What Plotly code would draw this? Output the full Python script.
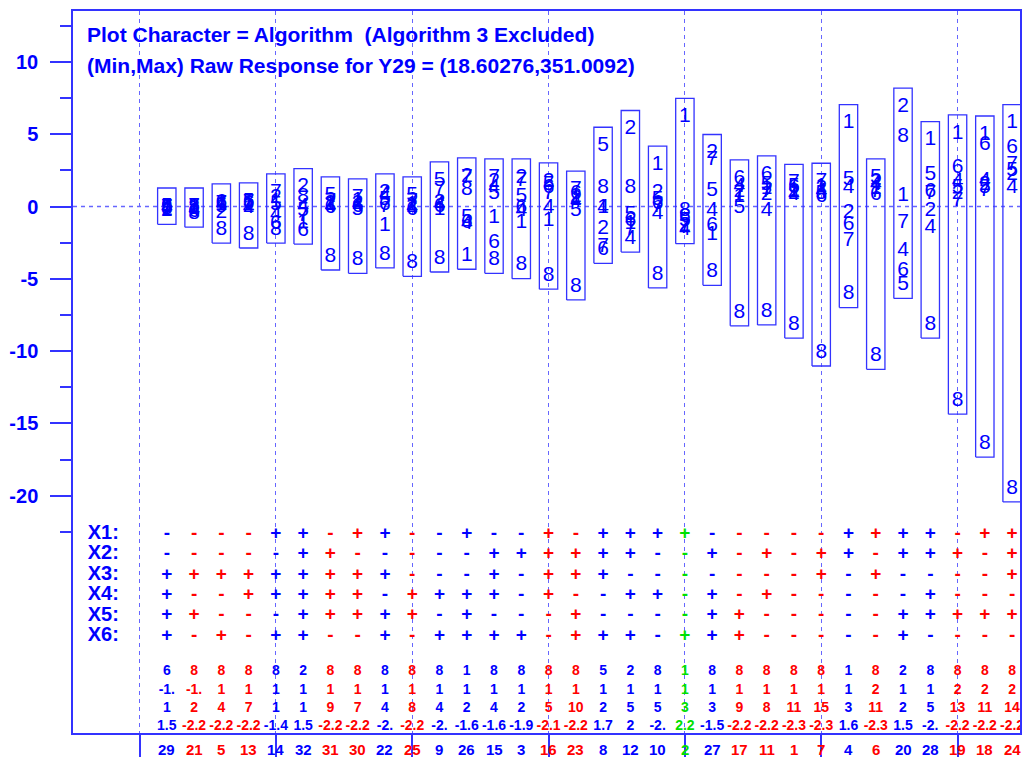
import plotly.graph_objects as go

# ---------------- data ----------------
columns = list(range(1, 33))
run_labels = [29, 21, 5, 13, 14, 32, 31, 30, 22, 25, 9, 26, 15, 3, 16, 23,
              8, 12, 10, 2, 27, 17, 11, 1, 7, 4, 6, 20, 28, 19, 18, 24]
run_group = ["b", "r", "r", "r", "b", "b", "r", "r", "b", "r", "b", "b", "b", "b", "r", "r",
             "b", "b", "b", "g", "b", "r", "r", "r", "r", "b", "r", "b", "b", "r", "r", "r"]

alg_ids = [1, 2, 4, 5, 6, 7, 8]
alg1 = [-0.25, -0.15, 0.15, 0.1, 0.3, -1.1, 0.1, 0.4, -1.36, 0.1, -0.2, -3.41, -0.76, -1.1, -1.0, 0.5,
        -0.1, -1.2, 2.9, 6.2, -1.93, 0.7, 1.2, 1.1, 1.4, 5.76, 1.2, 0.71, 4.59, 5.05, 4.98, 5.76]
alg2 = [-0.3, -0.1, -0.43, 0.0, 0.6, 1.34, 0.2, 0.2, 0.98, 0.0, 0.25, 2.08, 1.7, 2.01, 1.74, 0.7,
        -1.54, 5.36, 0.97, -1.3, 3.7, 1.0, 0.8, 0.9, 1.2, -0.43, 1.7, 6.91, -0.32, 0.9, 1.5, 2.2]
alg4 = [-0.1, -0.2, 0.1, -0.1, -0.6, 0.0, 0.0, 0.1, 0.8, -0.1, 0.1, -1.2, 1.3, -0.3, -0.07, 0.3,
        -0.09, -2.22, -0.5, -1.64, -0.32, 1.4, -0.32, 0.8, 1.0, 1.29, 1.5, -3.08, -1.47, 1.7, 1.8, 1.29]
alg5 = [-0.05, 0.0, 0.0, 0.36, 0.1, -0.3, 0.77, -0.2, 0.5, 0.77, 1.8, -0.8, 0.9, 0.7, 1.5, -0.3,
        4.2, -0.6, 0.5, -1.0, 1.06, -0.09, 1.5, 1.4, 0.9, 1.86, 2.01, -5.43, 2.2, 1.3, 1.3, 2.5]
alg6 = [0.0, -0.35, 0.29, 0.2, -1.2, -1.67, -0.1, 0.0, 0.1, -0.2, 0.0, -1.1, -2.5, -0.1, 1.3, 0.9,
        -3.0, -1.0, 0.2, -0.7, -1.36, 1.94, 2.22, 1.3, 0.7, -1.24, 0.83, -4.46, 1.0, 2.67, 4.28, 4.05]
alg7 = [-0.12, -0.05, 0.2, 0.25, 0.98, -0.67, 0.3, 0.63, 0.0, 0.3, 1.17, 2.0, 2.01, 1.8, 0.9, 1.16,
        -2.8, -1.6, 0.0, -1.5, 3.2, 0.9, 1.0, 1.64, 1.71, -2.39, 1.0, -1.13, 0.85, 0.4, 1.1, 2.9]
alg8 = [-0.15, -0.5, -1.6, -1.94, -1.6, 0.7, -3.46, -3.69, -3.32, -3.9, -3.6, 1.17, -3.69, -4.06, -4.79, -5.53,
        1.29, 1.29, -4.7, -0.3, -4.52, -7.32, -7.26, -8.17, -10.1, -6.06, -10.33, 4.85, -8.17, -13.43, -16.4, -19.5]

x1_signs = list("----++-++--+--+-++++-----++++-++")
x2_signs = list("-----++-----++++++--+-+-++-+++-+")
x3_signs = list("+++++++++---+-+++-------+-+----+")
x4_signs = list("+--+++++-++++-+--++-+-+-----+---")
x5_signs = list("++---+++++-+---+----++-----+++++")
x6_signs = list("+-+-++--+-++++-+++-+++-----+----")
factor_names = ["X1:", "X2:", "X3:", "X4:", "X5:", "X6:"]

best_alg = [6, 8, 8, 8, 8, 2, 8, 8, 8, 8, 8, 1, 8, 8, 8, 8,
            5, 2, 8, 1, 8, 8, 8, 8, 8, 1, 8, 2, 8, 8, 8, 8]
row_b = ["-1.", "-1.", "1", "1", "1", "1", "1", "1", "1", "1", "1", "1", "1", "1", "1", "1",
         "1", "1", "1", "1", "1", "1", "1", "1", "1", "1", "2", "1", "1", "2", "2", "2"]
row_c = [1, 2, 4, 7, 1, 1, 9, 7, 4, 8, 4, 2, 4, 2, 5, 10,
         2, 5, 5, 3, 3, 9, 8, 11, 15, 3, 11, 2, 5, 13, 11, 14]
row_d = ["1.5", "-2.2", "-2.2", "-2.2", "-1.4", "1.5", "-2.2", "-2.2", "-2.", "-2.2", "-2.", "-1.6",
         "-1.6", "-1.9", "-2.1", "-2.2", "1.7", "2", "-2.", "2.2", "-1.5", "-2.2", "-2.2", "-2.3",
         "-2.3", "1.6", "-2.3", "1.5", "-2.", "-2.2", "-2.2", "-2.2"]

title_1 = "Plot Character = Algorithm  (Algorithm 3 Excluded)"
title_2 = "(Min,Max) Raw Response for Y29 = (18.60276,351.0092)"

# ---------------- styling ----------------
BLUE = "#0000ff"
LINE = "#3333ff"
DASH = "#6666ff"
group_color = {"b": "#0000ff", "r": "#ff0000", "g": "#00e000"}
col_colors = [group_color[g] for g in run_group]
FONT = "Liberation Sans, Arial, sans-serif"

algs = [alg1, alg2, alg4, alg5, alg6, alg7, alg8]

fig = go.Figure()

# boxes spanning min..max of each column
half_w = 0.337
pad_lo, pad_hi = 0.93, 1.28
bx, by = [], []
for i, c in enumerate(columns):
    vals = [a[i] for a in algs]
    lo, hi = min(vals) - pad_lo, max(vals) + pad_hi
    bx += [c - half_w, c + half_w, c + half_w, c - half_w, c - half_w, None]
    by += [lo, lo, hi, hi, lo, None]
fig.add_trace(go.Scatter(x=bx, y=by, mode="lines", line=dict(color=LINE, width=1.3),
                         hoverinfo="skip"))

# plot characters
for aid, vals in zip(alg_ids, algs):
    fig.add_trace(go.Scatter(x=columns, y=vals, mode="text", text=[str(aid)] * len(columns),
                             textposition="middle center",
                             textfont=dict(family=FONT, size=21, color=BLUE)))

# factor sign rows
sign_rows = [x1_signs, x2_signs, x3_signs, x4_signs, x5_signs, x6_signs]
row0, row_step = -22.65, 1.41
for k, (name, signs) in enumerate(zip(factor_names, sign_rows)):
    yv = row0 - row_step * k
    fig.add_trace(go.Scatter(x=columns, y=[yv] * len(columns), mode="text", text=signs,
                             textposition="middle center",
                             textfont=dict(family=FONT, size=19, color=col_colors, weight="bold")))
    fig.add_trace(go.Scatter(x=[-1.9], y=[yv], mode="text", text=[name],
                             textposition="middle right",
                             textfont=dict(family=FONT, size=20, color=BLUE, weight="bold")))

# numeric summary rows
num_rows = [[str(v) for v in best_alg], row_b, [str(v) for v in row_c], row_d]
num_y = [-32.15, -33.5, -34.72, -35.98]
for yv, txt in zip(num_y, num_rows):
    fig.add_trace(go.Scatter(x=columns, y=[yv] * len(columns), mode="text", text=txt,
                             textposition="middle center",
                             textfont=dict(family=FONT, size=14, color=col_colors, weight="bold")))

# run labels under the frame
for c, lab, colr in zip(columns, run_labels, col_colors):
    fig.add_annotation(x=c, xref="x", y=-0.0235, yref="paper", yanchor="middle",
                       text=str(lab), showarrow=False,
                       font=dict(family=FONT, size=15, color=colr, weight="bold"))

# dashed zero line
fig.add_shape(type="line", xref="paper", x0=0, x1=1, yref="y", y0=0, y1=0,
              line=dict(color=DASH, width=1.3, dash="4px,4px"), layer="below")

# title lines
for yy, txt in [(0.9675, title_1), (0.925, title_2)]:
    fig.add_annotation(xref="paper", yref="paper", x=0.0125, y=yy, xanchor="left", yanchor="middle",
                       text=txt, showarrow=False,
                       font=dict(family=FONT, size=21, color=BLUE, weight="bold"))

major = [-20, -15, -10, -5, 0, 5, 10]
minor = [-22.5, -17.5, -12.5, -7.5, -2.5, 2.5, 7.5, 12.5]

fig.update_layout(
    width=1029, height=762,
    margin=dict(l=73, r=7, t=11, b=27),
    paper_bgcolor="white", plot_bgcolor="white",
    showlegend=False,
    xaxis=dict(range=[-2.44, 32.29], tickmode="array", tickvals=[0, 5, 10, 15, 20, 25, 30],
               showticklabels=False, ticks="outside", ticklen=22, tickwidth=1.5, tickcolor=LINE,
               showgrid=True, gridcolor=DASH, gridwidth=1.3, griddash="4px,4px",
               zeroline=False, showline=True, mirror=True, linecolor=LINE, linewidth=1.5),
    yaxis=dict(range=[-36.41, 13.52], tickmode="array", tickvals=major,
               ticktext=[str(v) for v in major],
               ticks="outside", ticklen=21, tickwidth=1.5, tickcolor=LINE,
               tickfont=dict(family=FONT, size=20, color=BLUE, weight="bold"),
               ticklabelstandoff=8,
               minor=dict(tickvals=minor, ticks="outside", ticklen=11, tickwidth=1.5, tickcolor=LINE,
                          showgrid=False),
               showgrid=False, zeroline=False, showline=True, mirror=True, linecolor=LINE, linewidth=1.5),
)

fig.write_html("out.html")
